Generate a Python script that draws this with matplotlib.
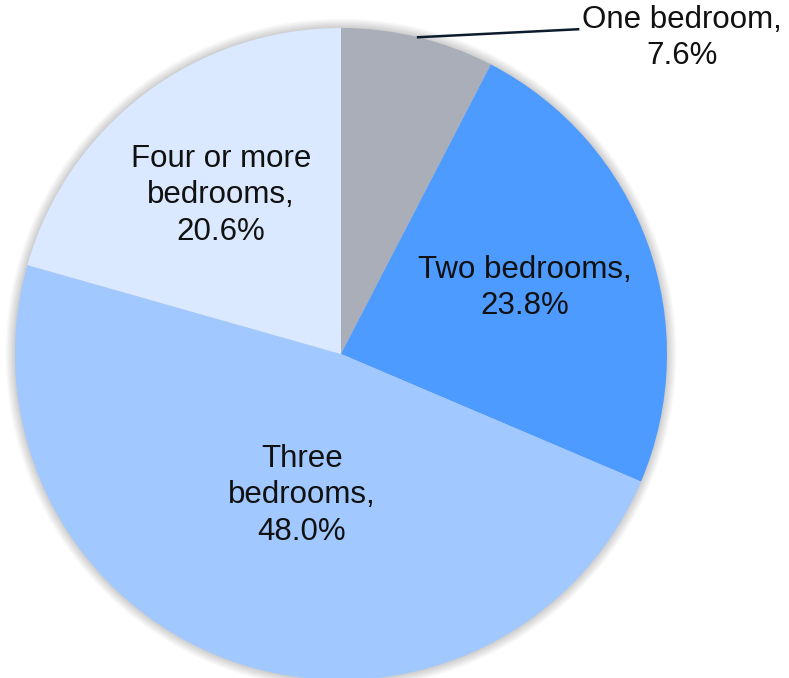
import numpy as np
import matplotlib
matplotlib.use("Agg")
import matplotlib.pyplot as plt
from matplotlib.patches import Circle

categories = ["One bedroom", "Two bedrooms", "Three bedrooms", "Four or more bedrooms"]
values = [7.6, 23.8, 48.0, 20.6]
label_texts = ["One bedroom,\n7.6%", "Two bedrooms,\n23.8%",
               "Three\nbedrooms,\n48.0%", "Four or more\nbedrooms,\n20.6%"]
colors = ["#A9AEB8", "#4D9BFF", "#A1C8FF", "#DAE9FF"]

plt.rcParams['font.family'] = ['Liberation Sans', 'DejaVu Sans']

W, H = 789, 678
fig = plt.figure(figsize=(W / 100, H / 100), dpi=100)
ax = fig.add_axes([0, 0, 1, 1])
ax.set_xlim(0, W)
ax.set_ylim(0, H)
ax.set_aspect('equal')
ax.axis('off')

cx, cy, R = 341, H - 354, 326

# soft shadow
for i in range(10):
    ax.add_patch(Circle((cx, cy), R + 0.5 + i * 1.0, color='black',
                        alpha=0.018, lw=0, zorder=0))

wedges, _ = ax.pie(values, colors=colors, startangle=90, counterclock=False,
                   center=(cx, cy), radius=R, frame=True,
                   wedgeprops=dict(linewidth=0))
for w in wedges:
    w.set_zorder(2)
ax.set_xlim(0, W)
ax.set_ylim(0, H)
ax.axis('off')

fs = 22.5
ls = 1.27
fracs = [None, 0.60, 0.45, 0.61]
dang = [0, 0, 4, 0]
for i, w in enumerate(wedges):
    mid = np.deg2rad((w.theta1 + w.theta2) / 2 + dang[i])
    if i == 0:
        x0 = cx + R * np.cos(mid)
        y0 = cy + R * np.sin(mid)
        x1, y1 = x0 + 160, y0 + 8
        ax.plot([x0, x1], [y0, y1], color='#0D1B2E', lw=1.8, zorder=3)
        ax.text(x1 + 104, y1 - 9, label_texts[i], ha='center', va='center',
                fontsize=fs, color='#111111', linespacing=ls, zorder=4)
    else:
        r = R * fracs[i]
        ax.text(cx + r * np.cos(mid), cy + r * np.sin(mid), label_texts[i],
                ha='center', va='center', fontsize=fs, color='#111111',
                linespacing=ls, zorder=4)

fig.savefig("out.png", dpi=100)
